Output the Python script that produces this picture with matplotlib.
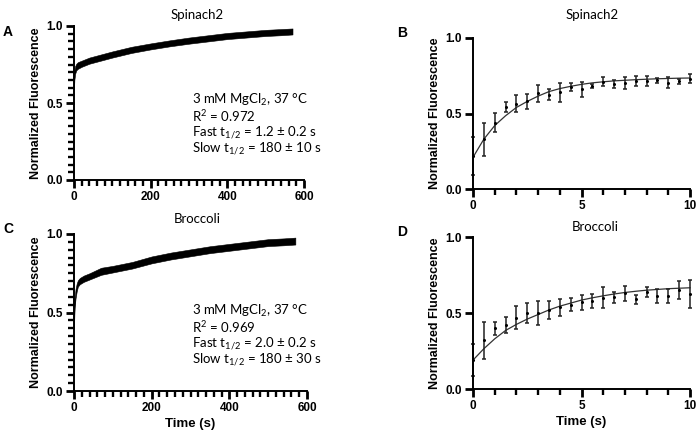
import matplotlib
matplotlib.use("Agg")
import matplotlib.pyplot as plt
import numpy as np

plt.rcParams['mathtext.fontset'] = 'custom'
plt.rcParams['mathtext.rm'] = 'Lato'
plt.rcParams['mathtext.it'] = 'Lato:italic'

# ---- slow trace, Spinach2 (band of dots) ----
spin_t = [0, 1, 3, 6, 10, 20, 40, 70, 100, 150, 200, 250, 300, 350, 400, 450, 500, 540, 570]
spin_lo = [0.59, 0.65, 0.69, 0.712, 0.722, 0.735, 0.755, 0.775, 0.795, 0.825, 0.848, 0.868, 0.885, 0.9, 0.915, 0.925, 0.935, 0.94, 0.945]
spin_hi = [0.66, 0.71, 0.74, 0.755, 0.765, 0.775, 0.795, 0.815, 0.835, 0.865, 0.887, 0.907, 0.925, 0.94, 0.955, 0.965, 0.975, 0.98, 0.984]

# ---- slow trace, Broccoli ----
broc_t = [0, 1, 2, 4, 7, 10, 15, 25, 40, 70, 100, 150, 200, 250, 300, 350, 400, 450, 500, 540, 570]
broc_lo = [0.40, 0.49, 0.54, 0.59, 0.635, 0.665, 0.68, 0.695, 0.71, 0.74, 0.755, 0.78, 0.813, 0.838, 0.858, 0.878, 0.893, 0.908, 0.923, 0.928, 0.933]
broc_hi = [0.50, 0.55, 0.60, 0.65, 0.685, 0.705, 0.72, 0.735, 0.75, 0.785, 0.797, 0.822, 0.857, 0.882, 0.902, 0.922, 0.937, 0.952, 0.967, 0.972, 0.977]

# ---- fast kinetics (mean +- error) ----
fast_t = [0, 0.5, 1, 1.5, 2, 2.5, 3, 3.5, 4, 4.5, 5, 5.5, 6, 6.5, 7, 7.5, 8, 8.5, 9, 9.5, 10]

spin_mean = [0.22, 0.33, 0.44, 0.545, 0.565, 0.58, 0.635, 0.625, 0.64, 0.675, 0.66, 0.685, 0.71, 0.696, 0.70, 0.713, 0.713, 0.72, 0.705, 0.714, 0.73]
spin_err = [0.125, 0.11, 0.065, 0.033, 0.055, 0.05, 0.056, 0.036, 0.062, 0.025, 0.05, 0.013, 0.029, 0.024, 0.04, 0.034, 0.034, 0.018, 0.038, 0.016, 0.031]
spin_fit = [0.21, 0.33, 0.42, 0.485, 0.54, 0.58, 0.615, 0.645, 0.665, 0.68, 0.693, 0.703, 0.71, 0.716, 0.72, 0.724, 0.727, 0.73, 0.732, 0.734, 0.735]

broc_mean = [0.19, 0.32, 0.40, 0.42, 0.47, 0.50, 0.50, 0.52, 0.537, 0.555, 0.57, 0.578, 0.60, 0.604, 0.63, 0.59, 0.64, 0.615, 0.613, 0.65, 0.623]
broc_err = [0.104, 0.12, 0.044, 0.053, 0.075, 0.063, 0.076, 0.057, 0.057, 0.045, 0.047, 0.047, 0.068, 0.036, 0.049, 0.028, 0.033, 0.046, 0.044, 0.06, 0.093]
broc_fit = [0.19, 0.265, 0.33, 0.385, 0.425, 0.46, 0.49, 0.52, 0.545, 0.565, 0.585, 0.60, 0.613, 0.625, 0.635, 0.643, 0.65, 0.655, 0.66, 0.663, 0.666]

notes_spin = ["3 mM MgCl$_2$, 37 °C", "R$^2$ = 0.972",
              "Fast t$_{1/2}$ = 1.2 ± 0.2 s", "Slow t$_{1/2}$ = 180 ± 10 s"]
notes_broc = ["3 mM MgCl$_2$, 37 °C", "R$^2$ = 0.969",
              "Fast t$_{1/2}$ = 2.0 ± 0.2 s", "Slow t$_{1/2}$ = 180 ± 30 s"]

BOLD = dict(family='Liberation Sans', weight='bold')
W, H = 698, 443


def style_axes(ax, fast):
    # graphpad look: only left/bottom axis, thick ticks pointing out
    ax.spines['top'].set_visible(False)
    ax.spines['right'].set_visible(False)
    ax.spines['left'].set_linewidth(1.4)
    ax.spines['bottom'].set_linewidth(1.4)
    ax.set_ylim(0, 1)
    ax.set_yticks([0, 0.5, 1.0])
    ax.set_yticklabels(['0.0', '0.5', '1.0'], fontsize=8.5, **BOLD)
    if fast:
        ax.set_xlim(0, 10)
        ax.set_xticks([0, 5, 10])
        ax.set_xticklabels(['0', '5', '10'], fontsize=8.5, **BOLD)
        ax.set_xticks(np.arange(0, 11, 1), minor=True)
    else:
        ax.set_xlim(0, 600)
        ax.set_xticks([0, 200, 400, 600])
        ax.set_xticklabels(['0', '200', '400', '600'], fontsize=8.5, **BOLD)
        ax.set_xticks(np.arange(0, 601, 20), minor=True)
        ax.set_yticks(np.arange(0, 1.001, 0.05), minor=True)
    ax.tick_params(which='major', length=6, width=2, color='black', pad=2)
    ax.tick_params(which='minor', length=4.5, width=1.7, color='black')
    ax.set_ylabel('Normalized Fluorescence', fontsize=9, labelpad=3, **BOLD)


def px_axes(fig, x0, y0, x1, y1):
    return fig.add_axes([x0 / W, 1 - y1 / H, (x1 - x0) / W, (y1 - y0) / H])


fig = plt.figure(figsize=(6.98, 4.43), dpi=100)

axA = px_axes(fig, 74, 26, 304, 180)
axB = px_axes(fig, 473, 38, 690, 189)
axC = px_axes(fig, 74, 234, 307, 391)
axD = px_axes(fig, 473, 237, 690, 389)

# slow traces
for ax, t, lo, hi, notes, ty in [(axA, spin_t, spin_lo, spin_hi, notes_spin, 100),
                                 (axC, broc_t, broc_lo, broc_hi, notes_broc, 311)]:
    ax.fill_between(t, lo, hi, color='black', linewidth=0.4, edgecolor='black')
    style_axes(ax, False)
    for i, line in enumerate(notes):
        fig.text(192 / W, 1 - (ty + i * 16.3) / H, line, fontsize=9.5,
                 family='Lato', va='center', ha='left')

# fast kinetics
for ax, m, e, f in [(axB, spin_mean, spin_err, spin_fit), (axD, broc_mean, broc_err, broc_fit)]:
    ax.plot(fast_t, f, color='#333333', linewidth=0.9, clip_on=False)
    ax.errorbar(fast_t, m, yerr=e, fmt='o', ms=1.2, color='black', ecolor='#222222',
                elinewidth=1.1, capsize=1.6, capthick=1.1, clip_on=False)
    style_axes(ax, True)

axC.set_xlabel('Time (s)', fontsize=9.5, labelpad=3, **BOLD)
axD.set_xlabel('Time (s)', fontsize=9.5, labelpad=3, **BOLD)

# titles
fig.text(197 / W, 1 - 15 / H, 'Spinach2', fontsize=9.5, family='Lato', ha='center', va='center')
fig.text(592 / W, 1 - 15 / H, 'Spinach2', fontsize=9.5, family='Lato', ha='center', va='center')
fig.text(197 / W, 1 - 219 / H, 'Broccoli', fontsize=9.5, family='Lato', ha='center', va='center')
fig.text(595 / W, 1 - 227 / H, 'Broccoli', fontsize=9.5, family='Lato', ha='center', va='center')

# panel letters
for letter, x, y in [('A', 8, 32), ('B', 402, 33), ('C', 8, 229), ('D', 402, 232)]:
    fig.text(x / W, 1 - y / H, letter, fontsize=10, ha='center', va='center', **BOLD)

fig.savefig('out.png', dpi=100)
